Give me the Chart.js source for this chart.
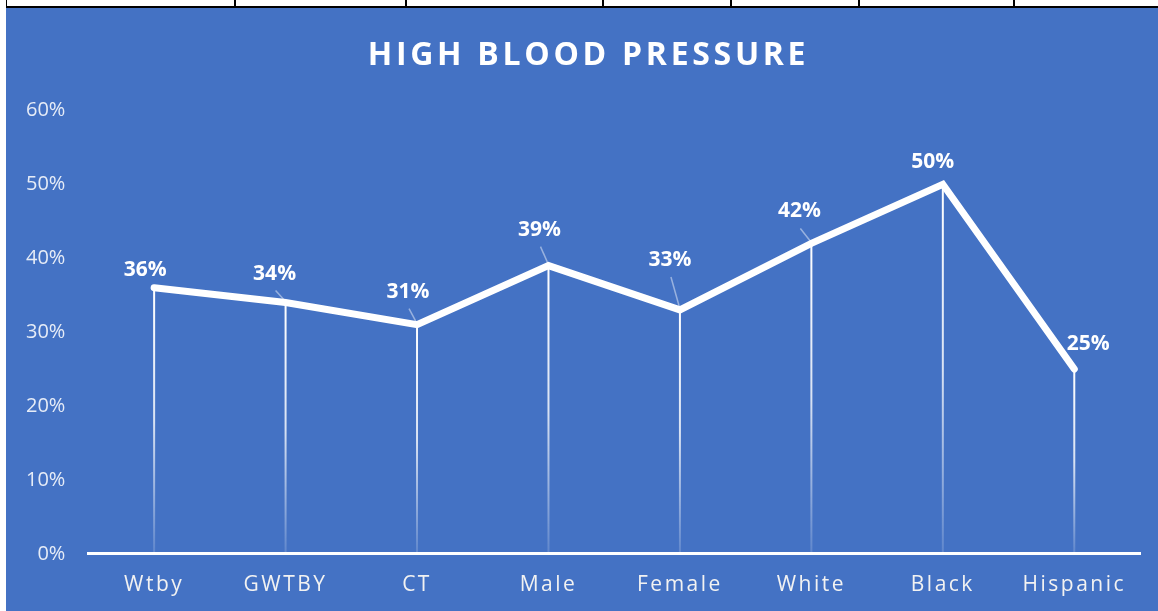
<!DOCTYPE html>
<html>
<head>
<meta charset="utf-8">
<title>High Blood Pressure</title>
<script src="https://cdn.jsdelivr.net/npm/chart.js@4.4.1/dist/chart.umd.min.js"></script>
<style>
  html, body { margin: 0; padding: 0; background: #fff; }
  body { width: 1158px; height: 611px; position: relative; overflow: hidden; }
  .cells { position: absolute; left: 6px; top: 0; width: 1152px; height: 6px; border-left: 1px solid #000; border-bottom: 2px solid #000; }
  .cells span { position: absolute; top: 0; width: 2px; height: 6px; background: #000; }
  #wrap { position: absolute; left: 6px; top: 8px; width: 1152px; height: 603px; background: #4472c4; }
</style>
</head>
<body>
<div class="cells">
  <span style="left:227px"></span><span style="left:398px"></span><span style="left:595px"></span>
  <span style="left:723px"></span><span style="left:851px"></span><span style="left:1006px"></span>
</div>
<div id="wrap"><canvas id="bpChart" width="1152" height="603"></canvas></div>
<script>
var categories = ['Wtby', 'GWTBY', 'CT', 'Male', 'Female', 'White', 'Black', 'Hispanic'];
var pressureValues = [0.36, 0.34, 0.31, 0.39, 0.33, 0.42, 0.50, 0.25];
var yTickValues = [0, 0.1, 0.2, 0.3, 0.4, 0.5, 0.6];

// where each value label sits relative to its point (px)
var labelShift = [[-9, -18], [-11, -29], [-9, -33], [-9, -36], [-10, -50], [-12, -32], [-10, -22], [14, -25]];

var FONT = "'Open Sans', sans-serif";
Chart.defaults.font.family = FONT;

function pct(v) { return Math.round(v * 100) + '%'; }

// letter spacing for the title and the category labels
var spacingPlugin = {
	id: 'spacing',
	afterLayout: function(chart) {
		var ctx = chart.ctx;
		var tb = chart.titleBlock;
		if (tb && !tb._spaced) {
			var drawTitle = tb.draw.bind(tb);
			tb.draw = function() {
				ctx.save();
				ctx.letterSpacing = '3.7px';
				ctx.translate(17, 0); // centre over the whole panel, not the padded box
				drawTitle();
				ctx.restore();
			};
			tb._spaced = true;
		}
		var xs = chart.scales.x;
		if (xs && !xs._spaced) {
			var drawLabels = xs.drawLabels.bind(xs);
			xs.drawLabels = function(area) { ctx.save(); ctx.letterSpacing = '2.5px'; drawLabels(area); ctx.restore(); };
			xs._spaced = true;
		}
	}
};

// drop lines from each point down to the axis, fading out
var dropLines = {
	id: 'dropLines',
	beforeDatasetsDraw: function(chart) {
		var ctx = chart.ctx;
		var meta = chart.getDatasetMeta(0);
		var bottom = chart.scales.y.getPixelForValue(0);
		ctx.save();
		ctx.lineWidth = 2;
		meta.data.forEach(function(pt) {
			var g = ctx.createLinearGradient(0, pt.y, 0, bottom);
			g.addColorStop(0, 'rgba(255,255,255,1)');
			g.addColorStop(0.5, 'rgba(255,255,255,0.8)');
			g.addColorStop(1, 'rgba(255,255,255,0.15)');
			ctx.strokeStyle = g;
			ctx.beginPath();
			ctx.moveTo(pt.x, pt.y);
			ctx.lineTo(pt.x, bottom);
			ctx.stroke();
		});
		ctx.restore();
	}
};

// value labels with leader lines
var valueLabels = {
	id: 'valueLabels',
	afterDatasetsDraw: function(chart) {
		var ctx = chart.ctx;
		var meta = chart.getDatasetMeta(0);
		var values = chart.data.datasets[0].data;
		ctx.save();
		meta.data.forEach(function(pt, i) {
			var lx = pt.x + labelShift[i][0];
			var ly = pt.y + labelShift[i][1];
			if (Math.abs(labelShift[i][1]) > 27) {
				ctx.strokeStyle = 'rgba(255,255,255,0.45)';
				ctx.lineWidth = 1.5;
				ctx.beginPath();
				ctx.moveTo(lx + 1, ly + 17);
				ctx.lineTo(pt.x, pt.y - 1);
				ctx.stroke();
			}
			ctx.fillStyle = '#fff';
			ctx.font = 'bold 21px ' + FONT;
			ctx.textAlign = 'center';
			ctx.textBaseline = 'middle';
			ctx.fillText(pct(values[i]), lx, ly);
		});
		ctx.restore();
	}
};

var ctx = document.getElementById('bpChart').getContext('2d');
var chart = new Chart(ctx, {
	type: 'line',
	data: {
		labels: categories,
		datasets: [{
			label: 'High blood pressure',
			data: pressureValues,
			borderColor: '#fff',
			borderWidth: 7,
			borderCapStyle: 'round',
			borderJoinStyle: 'miter',
			pointRadius: 0,
			tension: 0,
			fill: false
		}]
	},
	options: {
		responsive: false,
		animation: false,
		layout: { padding: { left: -3, right: 18, top: 0, bottom: -6 } },
		plugins: {
			legend: { display: false },
			tooltip: { enabled: false },
			title: {
				display: true,
				text: 'HIGH BLOOD PRESSURE',
				color: '#fff',
				font: { size: 32, weight: 'bold' },
				padding: { top: 29, bottom: 35 }
			}
		},
		scales: {
			x: {
				offset: true,
				grid: { display: false, drawTicks: false },
				border: { display: true, color: '#fff', width: 3 },
				ticks: { color: '#f2f2f2', font: { size: 21 }, padding: 19, autoSkip: false, maxRotation: 0 }
			},
			y: {
				min: 0,
				max: 0.6,
				grid: { display: false, drawTicks: false },
				border: { display: false },
				afterBuildTicks: function(scale) {
					scale.ticks = yTickValues.map(function(v) { return { value: v }; });
				},
				ticks: { color: '#e6ecf7', font: { size: 20 }, padding: 23, callback: function(v) { return pct(v); } }
			}
		}
	},
	plugins: [spacingPlugin, dropLines, valueLabels]
});
</script>
</body>
</html>
